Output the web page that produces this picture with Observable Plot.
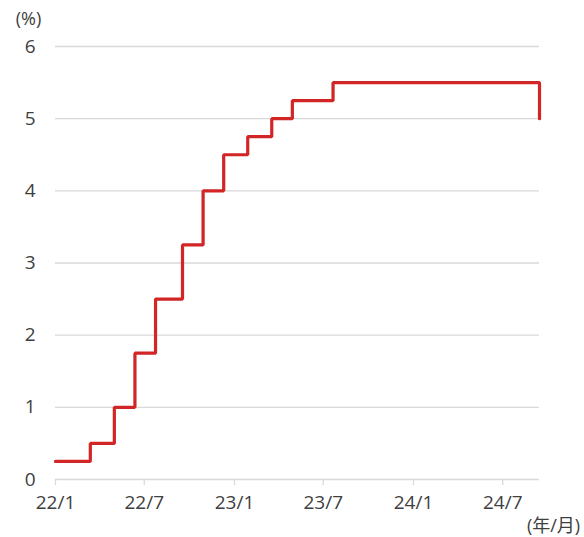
<!DOCTYPE html>
<html><head><meta charset="utf-8">
<script src="https://cdn.jsdelivr.net/npm/d3@7"></script>
<script src="https://cdn.jsdelivr.net/npm/@observablehq/plot@0.6"></script>
<style>body{margin:0;background:#fff}</style>
</head><body><div id="chart"></div>
<script>
// Policy-rate change dates (as placed on the chart) and rate levels (%)
const changeDates = ["2022-01-01","2022-03-13","2022-05-01","2022-06-12","2022-07-24","2022-09-17","2022-10-29","2022-12-10","2023-01-28","2023-03-18","2023-04-29","2023-07-21","2024-09-14"];
const rates = [0.25, 0.5, 1.0, 1.75, 2.5, 3.25, 4.0, 4.5, 4.75, 5.0, 5.25, 5.5, 5.0];
const xTickDates = ["2022-01-01","2022-07-01","2023-01-01","2023-07-01","2024-01-01","2024-07-01"];
const xTickLabels = ["22/1","22/7","23/1","23/7","24/1","24/7"];
const yTicks = [0, 1, 2, 3, 4, 5, 6];

const parse = d3.utcParse("%Y-%m-%d");
const data = changeDates.map((d, i) => ({date: parse(d), rate: rates[i]}));
const ticks = xTickDates.map(parse);
const labelOf = new Map(ticks.map((t, i) => [+t, xTickLabels[i]]));

const font = "'Open Sans', 'Noto Sans CJK JP', sans-serif";
const textColor = "#404040";

const chart = Plot.plot({
  width: 584,
  height: 537,
  marginLeft: 55,
  marginRight: 45,
  marginTop: 46,
  marginBottom: 58,
  style: {fontFamily: font, fontSize: "19px", color: textColor, background: "#fff"},
  x: {type: "utc", domain: [data[0].date, data[data.length - 1].date]},
  y: {domain: [0, 6]},
  marks: [
    Plot.ruleY(yTicks, {stroke: "#d9d9d9", strokeWidth: 1.3}),
    Plot.axisX({
      ticks: ticks, tickSize: 6, tickPadding: 10, stroke: "#d9d9d9", strokeWidth: 1.3,
      tickFormat: d => labelOf.get(+d), label: null, fontSize: 19, fill: textColor
    }),
    Plot.axisY({
      ticks: yTicks, tickSize: 0, tickPadding: 20, tickFormat: d => String(d), label: null, fontSize: 19, fill: textColor
    }),
    Plot.line(data, {x: "date", y: "rate", curve: "step-after", stroke: "#d22526", strokeWidth: 3.2, strokeLinejoin: "miter"}),
    Plot.text(["(%)"], {frameAnchor: "top-left", lineAnchor: "middle", dx: -27, dy: -27, textAnchor: "middle", fontSize: 18, fill: textColor}),
    Plot.text(["(年/月)"], {frameAnchor: "bottom-right", lineAnchor: "middle", dx: 14, dy: 47, textAnchor: "middle", fontSize: 18, fill: textColor})
  ]
});
document.getElementById("chart").appendChild(chart);
</script>
</body></html>
